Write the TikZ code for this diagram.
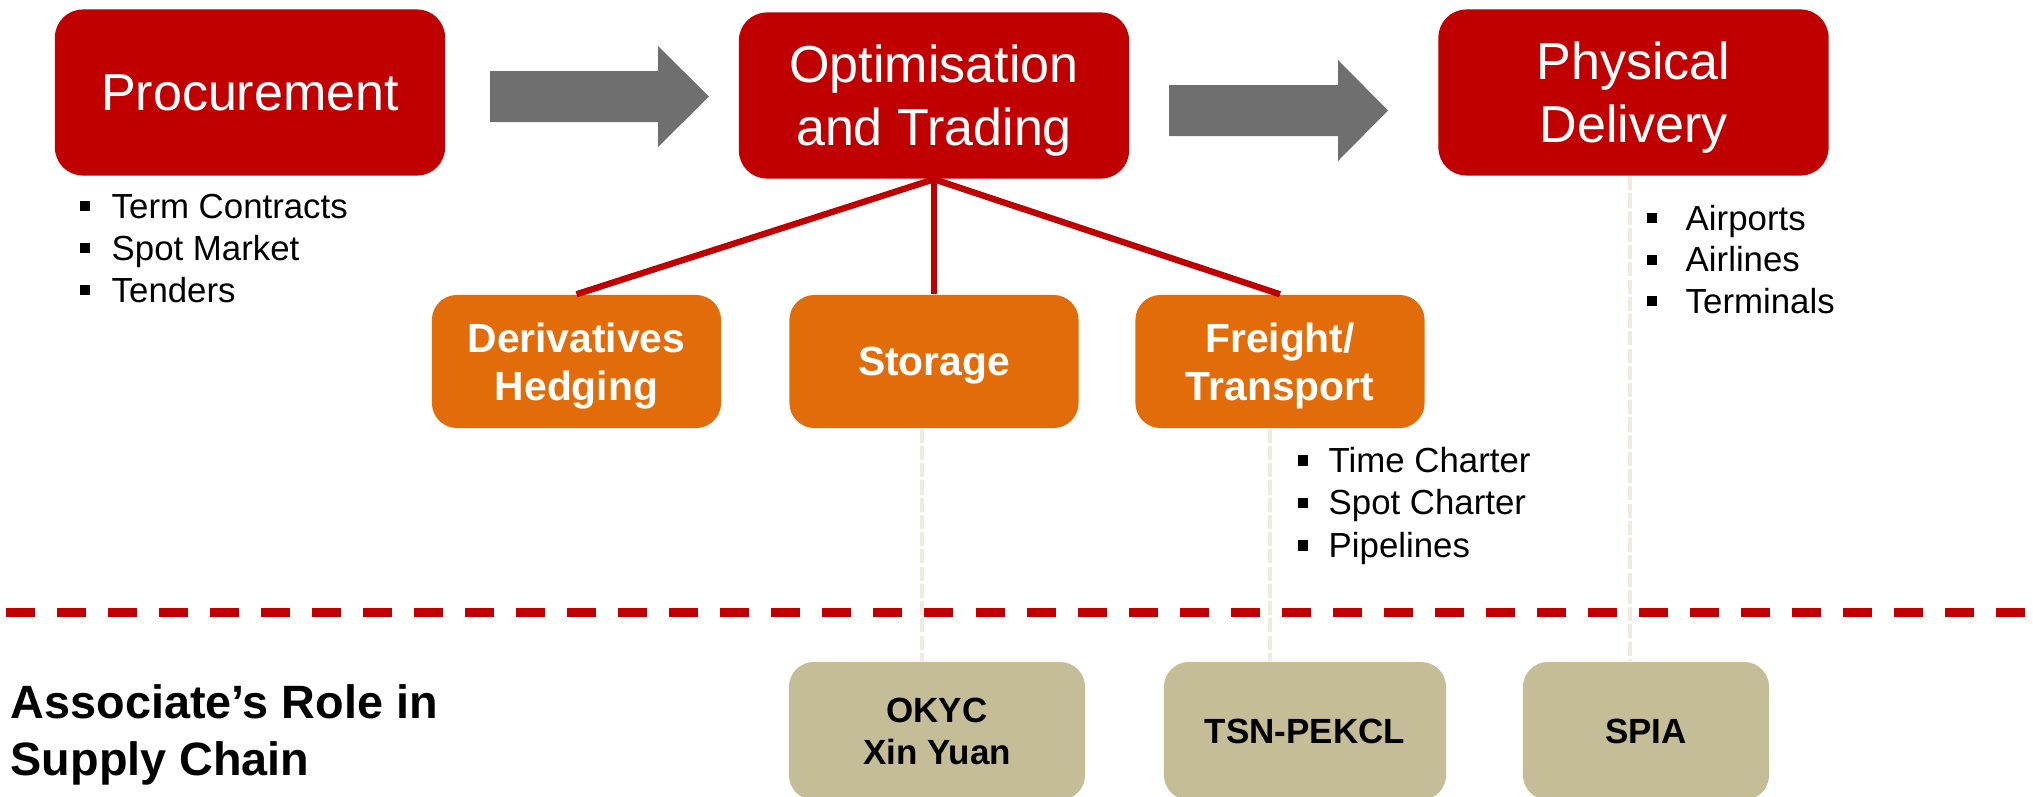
\documentclass[tikz,border=0pt]{standalone}
\usepackage{fontspec}
\setmainfont{Liberation Sans}
\usetikzlibrary{calc}
\definecolor{rot}{HTML}{C00000}
\definecolor{orng}{HTML}{E36C0A}
\definecolor{sand}{HTML}{C4BD97}
\definecolor{pfeil}{HTML}{6F6F6F}
\definecolor{hell}{HTML}{EEECE1}
\newcommand{\pkt}[1][0.22cm]{\rule[0.065cm]{0.1cm}{0.1cm}\hspace{#1}}
\tikzset{
  haupt/.style={fill=rot,rounded corners=0.28cm,text=white,align=center,inner sep=0pt,text depth=0pt,minimum width=3.9cm,minimum height=1.66cm,font=\fontsize{14.8}{17.9}\selectfont},
  teil/.style={fill=orng,rounded corners=0.25cm,text=white,align=center,inner sep=0pt,text depth=0pt,minimum width=2.89cm,minimum height=1.33cm,font=\bfseries\fontsize{11.6}{13.7}\selectfont},
  partner/.style={fill=sand,rounded corners=0.25cm,align=center,inner sep=0pt,text depth=0pt,minimum height=1.38cm,font=\bfseries\fontsize{9.95}{12}\selectfont},
  ast/.style={rot,line width=1.8pt},
  hilf/.style={hell,line width=1.1pt,dash pattern=on 4pt off 0.9pt},
  trenn/.style={rot,line width=2.56pt,dash pattern=on 8.25pt off 6.26pt},
  liste/.style={anchor=base west,inner sep=0pt,font=\fontsize{9.9}{11.95}\selectfont},
}
\begin{document}
\begin{tikzpicture}[x=0.01cm,y=-0.01cm]
  \useasboundingbox (0,0) rectangle (2033,797);
  \node[haupt] (proc) at (250,92.5) {Procurement};
  \node[haupt] (opt) at (934,95.5) {Optimisation\\and Trading};
  \node[haupt] (phys) at (1633.5,92.5) {Physical\\Delivery};
  \fill[pfeil] (490,71)--(658,71)--(658,46)--(709,96.5)--(658,147)--(658,122)--(490,122)--cycle;
  \fill[pfeil] (1169,85)--(1338,85)--(1338,60)--(1388,110.5)--(1338,161)--(1338,136)--(1169,136)--cycle;
  \node[teil] (deri) at (576.5,361.5) {Derivatives\\Hedging};
  \node[teil] (stor) at (934,361.5) {Storage};
  \node[teil] (frei) at (1280,361.5) {Freight/\\Transport};
  \draw[ast] (opt.south) -- (deri.north);
  \draw[ast] (opt.south) -- (stor.north);
  \draw[ast] (opt.south) -- (frei.north);
  \node[partner,minimum width=2.96cm] (okyc) at (937,731) {OKYC\\Xin Yuan};
  \node[partner,minimum width=2.82cm] (tsn) at (1305,731) {TSN-PEKCL};
  \node[partner,minimum width=2.46cm] (spia) at (1646,731) {SPIA};
  \draw[hilf] ([xshift=-0.12cm]stor.south) -- ([xshift=-0.12cm]stor.south |- okyc.north);
  \draw[hilf] ([xshift=-0.10cm]frei.south) -- ([xshift=-0.10cm]frei.south |- tsn.north);
  \draw[hilf] ([xshift=-0.035cm]phys.south) -- ([xshift=-0.035cm]phys.south |- spia.north);
  \draw[trenn] (6,612) -- (2033,612);
  \foreach \t [count=\i] in {Term Contracts,Spot Market,Tenders}
    \node[liste] at (79,176+42*\i) {\pkt\t};
  \foreach \t [count=\i] in {Time Charter,Spot Charter,Pipelines}
    \node[liste] at (1297,429.5+42.5*\i) {\pkt[0.21cm]\t};
  \foreach \t [count=\i] in {Airports,Airlines,Terminals}
    \node[liste] at (1646,188.5+41.5*\i) {\pkt[0.29cm]\t};
  \node[anchor=west,align=left,inner sep=0pt,font=\bfseries\fontsize{13.3}{16.2}\selectfont] (rolle) at (10,735) {Associate’s Role in\\Supply Chain};
\end{tikzpicture}
\end{document}
